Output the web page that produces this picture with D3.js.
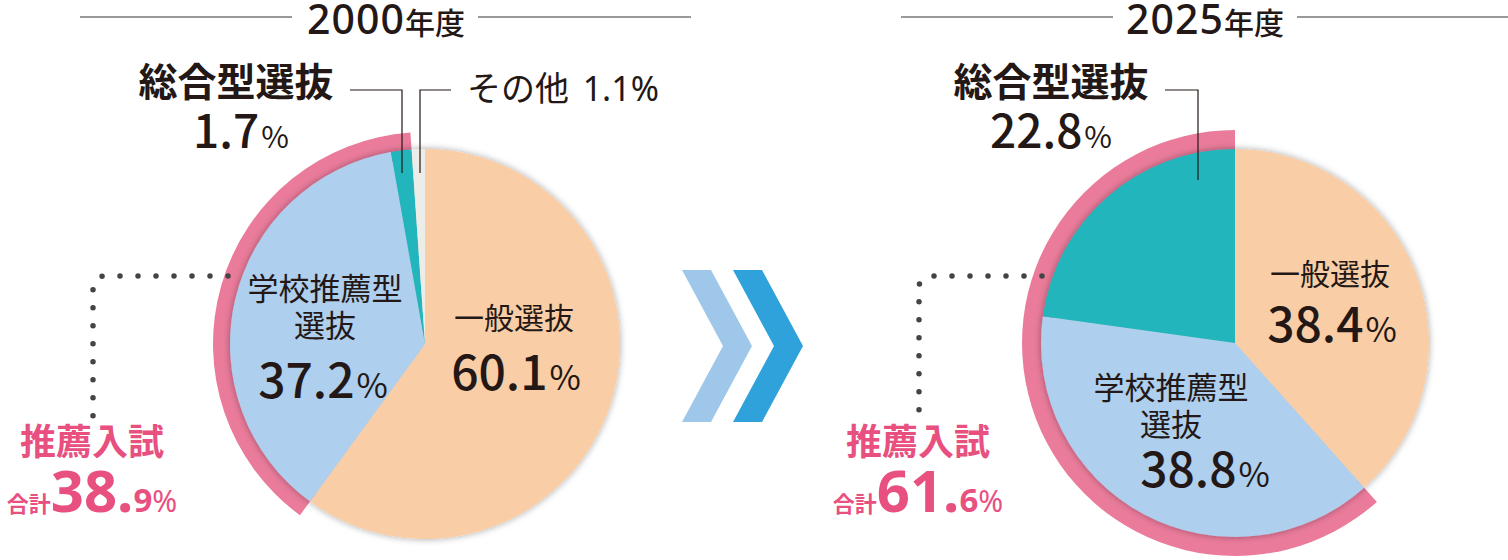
<!DOCTYPE html>
<html lang="ja">
<head>
<meta charset="UTF-8" />
<title>入試区分の割合</title>
<script src="https://d3js.org/d3.v7.min.js"></script>
<style>
  html, body { margin: 0; padding: 0; background: #fff; }
  svg text { font-family: "Noto Sans CJK JP", "Noto Sans", sans-serif; fill: #231815; }
</style>
</head>
<body>
<div id="chart"></div>
<script>
// data
const years = ["2000年度", "2025年度"];
const categories = ["一般選抜", "学校推薦型選抜", "総合型選抜", "その他"];
const share2000 = [60.1, 37.2, 1.7, 1.1];
const share2025 = [38.4, 38.8, 22.8, 0];
const recTotals = [38.9, 61.6];

const colors = ["#F9CDA6", "#AECFED", "#21B6BC", "#ECECE9"];
const ringColor = "#EA7B9B";
const pinkText = "#E8507F";

const width = 1508, height = 560;

const svg = d3.select("#chart").append("svg")
  .attr("width", width).attr("height", height);

const defs = svg.append("defs");
const f = defs.append("filter").attr("id", "shadow")
  .attr("x", "-20%").attr("y", "-20%").attr("width", "140%").attr("height", "140%");
f.append("feDropShadow").attr("dx", 0).attr("dy", 0)
  .attr("stdDeviation", 3.5).attr("flood-color", "#000").attr("flood-opacity", 0.35);

// layout for each chart (positions only)
const layouts = [
  {
    cx: 425, cy: 344, r: 195, ringR: 212,
    title: { x: 386, lines: [[80, 292], [478, 691]] },
    dots: "M228,276 H104 A11,11 0 0 0 93,287 V418",
    total: { x: 92 },
    labels: [
      { name: "一般選抜", x: 514, y: 329, px: 516, py: 390 },
      { name: ["学校推薦型", "選抜"], x: 325, y: 300, px: 323, py: 398 },
      { name: "総合型選抜", x: 236, y: 96, px: 241, py: 148, outside: true },
      { name: "その他", x: 467, y: 101, outside: true }
    ],
    leaders: ["M350,90 H402 V173", "M451,90 H420 V173"]
  },
  {
    cx: 1235, cy: 343, r: 194, ringR: 213,
    title: { x: 1205, lines: [[901, 1113], [1297, 1508]] },
    dots: "M1042,276 H930 A11,11 0 0 0 919,287 V418",
    total: { x: 918 },
    labels: [
      { name: "一般選抜", x: 1330, y: 285, px: 1332, py: 342 },
      { name: ["学校推薦型", "選抜"], x: 1171, y: 399, px: 1205, py: 487 },
      { name: "総合型選抜", x: 1051, y: 96, px: 1051, py: 148, outside: true }
    ],
    leaders: ["M1165,90 H1198 V180"]
  }
];

const pie = d3.pie().sort(null).value(d => d);
const dataSets = [share2000, share2025];

function pctText(sel, value, big, small, weight) {
  const s = value.toFixed(1);
  sel.append("tspan").attr("font-size", big).attr("font-weight", weight).text(s);
  sel.append("tspan").attr("font-size", small).attr("font-weight", 400).attr("dx", 2).text("%");
}

dataSets.forEach((values, i) => {
  const L = layouts[i];
  const g = svg.append("g");

  // title with side rules
  L.title.lines.forEach(([x1, x2]) => {
    g.append("line").attr("x1", x1).attr("x2", x2).attr("y1", 17).attr("y2", 17)
      .attr("stroke", "#777").attr("stroke-width", 1.5);
  });
  const t = g.append("text").attr("x", L.title.x).attr("y", 34).attr("text-anchor", "middle");
  t.append("tspan").attr("font-family", "Noto Sans").attr("font-size", 41)
    .attr("font-weight", 500).attr("letter-spacing", 1).text(years[i].slice(0, 4));
  t.append("tspan").attr("font-size", 30).attr("font-weight", 500).text(years[i].slice(4));

  const arcs = pie(values);
  const pg = g.append("g").attr("transform", `translate(${L.cx},${L.cy})`);

  // pink ring over 推薦 (学校推薦型 + 総合型)
  pg.append("path")
    .attr("d", d3.arc().innerRadius(L.r - 10).outerRadius(L.ringR)
      .startAngle(arcs[1].startAngle).endAngle(arcs[2].endAngle)())
    .attr("fill", ringColor);

  // pie slices
  const slices = pg.append("g").attr("filter", "url(#shadow)");
  slices.selectAll("path")
    .data(arcs.filter(d => d.value > 0))
    .join("path")
    .attr("d", d3.arc().innerRadius(0).outerRadius(L.r))
    .attr("fill", d => colors[d.index]);

  // leader lines
  L.leaders.forEach(p => {
    g.append("path").attr("d", p).attr("fill", "none")
      .attr("stroke", "#231815").attr("stroke-width", 1.2);
  });

  // dotted connector
  g.append("path").attr("d", L.dots).attr("fill", "none")
    .attr("stroke", "#444").attr("stroke-width", 5.5)
    .attr("stroke-linecap", "round").attr("stroke-dasharray", "0 18");

  // labels
  L.labels.forEach((lb, k) => {
    const v = values[k];
    if (k === 3) {
      const tx = g.append("text").attr("x", lb.x).attr("y", lb.y)
        .attr("font-size", 34).attr("font-weight", 400);
      tx.append("tspan").text(lb.name + " ");
      tx.append("tspan").attr("font-family", "Noto Sans").attr("dx", 6).text(v.toFixed(1) + "%");
      return;
    }
    if (lb.outside) {
      g.append("text").attr("x", lb.x).attr("y", lb.y).attr("text-anchor", "middle")
        .attr("font-size", 39).attr("font-weight", 700).text(lb.name);
      const p = g.append("text").attr("x", lb.px).attr("y", lb.py).attr("text-anchor", "middle")
        .attr("font-family", "Noto Sans");
      pctText(p, v, 46, 30, 500);
      return;
    }
    const names = Array.isArray(lb.name) ? lb.name : [lb.name];
    names.forEach((n, j) => {
      g.append("text").attr("x", lb.x).attr("y", lb.y + j * 37).attr("text-anchor", "middle")
        .attr("font-size", k === 0 ? 30 : 31).attr("font-weight", 400).text(n);
    });
    const p = g.append("text").attr("x", lb.px).attr("y", lb.py).attr("text-anchor", "middle")
      .attr("font-family", "Noto Sans");
    pctText(p, v, 48, 34, 500);
  });

  // 推薦入試 total
  g.append("text").attr("x", L.total.x).attr("y", 455).attr("text-anchor", "middle")
    .attr("font-size", 36).attr("font-weight", 700).style("fill", pinkText).text("推薦入試");
  const tot = recTotals[i].toFixed(1).split(".");
  const tt = g.append("text").attr("x", L.total.x).attr("y", 512).attr("text-anchor", "middle")
    .attr("font-weight", 700).style("fill", pinkText);
  tt.append("tspan").attr("font-size", 22).text("合計");
  tt.append("tspan").attr("font-family", "Noto Sans").attr("font-size", 58).text(tot[0] + ".");
  tt.append("tspan").attr("font-family", "Noto Sans").attr("font-size", 33).text(tot[1]);
  tt.append("tspan").attr("font-family", "Noto Sans").attr("font-size", 30).attr("font-weight", 400).text("%");
});

// chevrons
const chevron = (x, y) => [[x, y], [x + 29, y], [x + 70, y + 76], [x + 29, y + 152], [x, y + 152], [x + 41, y + 76]];
svg.selectAll("polygon.chev")
  .data([{ x: 682, c: "#9FC7E9" }, { x: 733, c: "#2FA1DB" }])
  .join("polygon")
  .attr("class", "chev")
  .attr("points", d => chevron(d.x, 270).map(p => p.join(",")).join(" "))
  .attr("fill", d => d.c);
</script>
</body>
</html>
